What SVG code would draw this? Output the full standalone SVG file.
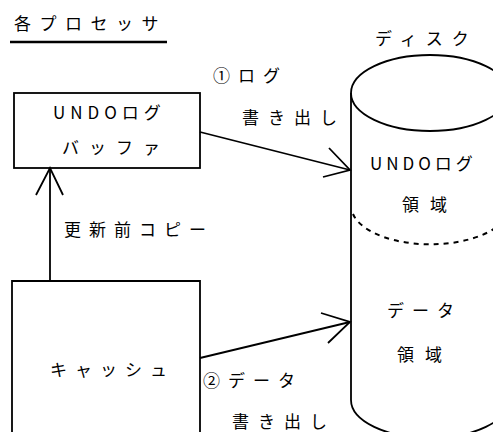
<svg xmlns="http://www.w3.org/2000/svg" width="493" height="432" viewBox="0 0 493 432">
<style>
text{font-family:"Noto Sans CJK JP","Noto Sans",sans-serif;font-size:17px;fill:#000;}
.ln{fill:none;stroke:#000;stroke-width:1.8;}
.dash{fill:none;stroke:#000;stroke-width:2;stroke-dasharray:5 5;}
</style>
<rect width="493" height="432" fill="#fff"/>
<g id="title">
<text x="14" y="30" letter-spacing="8.5">各プロセッサ</text>
<line x1="10" y1="42" x2="167" y2="42" stroke="#000" stroke-width="2.5"/>
</g>
<g id="undo-buffer">
<rect class="ln" x="14" y="93" width="186" height="75"/>
<text x="53" y="119" letter-spacing="5">UNDOログ</text>
<text x="62" y="154" letter-spacing="10">バッファ</text>
</g>
<g id="cache">
<path class="ln" d="M12,440 V281 H200 V440"/>
<text x="50" y="376" letter-spacing="8">キャッシュ</text>
</g>
<g id="disk">
<text x="375" y="45" letter-spacing="9">ディスク</text>
<ellipse class="ln" cx="430" cy="93" rx="79" ry="38"/>
<path class="ln" d="M351,93 V400 A79 38 0 0 0 509 400"/>
<path class="dash" d="M353,214 A79 38 0 0 0 509 210"/>
<text x="370" y="170" letter-spacing="4">UNDOログ</text>
<text x="402" y="211" letter-spacing="11">領域</text>
<text x="387" y="317" letter-spacing="8">データ</text>
<text x="397" y="361" letter-spacing="11">領域</text>
</g>
<g id="connectors">
<line class="ln" x1="50" y1="281" x2="50" y2="168"/>
<path class="ln" d="M36,195 L50,168 L63,195"/>
<line class="ln" x1="200" y1="132" x2="350" y2="170"/>
<path class="ln" d="M329,148 L350,170 L323,177"/>
<line class="ln" x1="200" y1="358" x2="350" y2="322"/>
<path class="ln" d="M321,313 L350,322 L328,343"/>
</g>
<g id="labels">
<text x="213" y="82" letter-spacing="8">①ログ</text>
<text x="242" y="124" letter-spacing="9">書き出し</text>
<text x="203" y="387" letter-spacing="8">②データ</text>
<text x="232" y="428" letter-spacing="9">書き出し</text>
<text x="64" y="236" letter-spacing="8">更新前コピー</text>
</g>
</svg>
